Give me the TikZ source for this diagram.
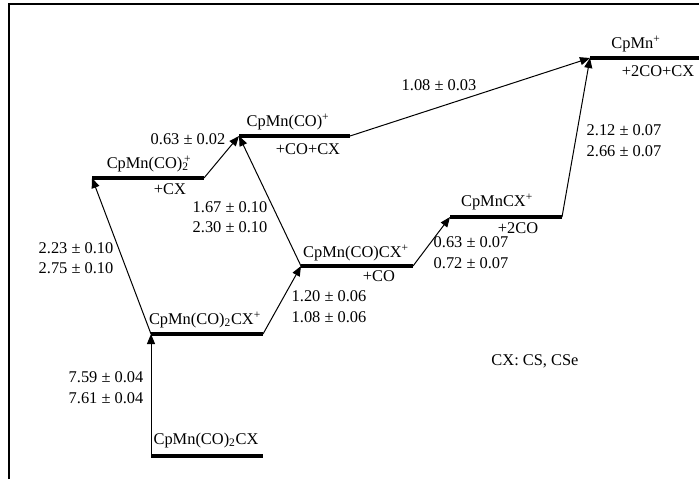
\documentclass[tikz,border=0pt]{standalone}
\usepackage{fontspec}
\setmainfont{Liberation Serif}
\usetikzlibrary{arrows.meta}
\newcommand{\subsup}[2]{\makebox[0pt][l]{\textsubscript{#1}}\textsuperscript{\kern0.15em #2}}
\begin{document}
\begin{tikzpicture}[x=0.75pt,y=-0.75pt,
  levelline/.style={line width=2.3pt},
  step arrow/.style={line width=0.75pt,-{Triangle[length=7.5pt,width=6pt]}},
  joinline/.style={line width=0.75pt},
  lbl/.style={font=\fontsize{12.3}{14}\selectfont,inner sep=0pt,anchor=base}]
\useasboundingbox (0,0) rectangle (699,479);
% frame
\draw[line width=1.1pt] (9,479) -- (9,4) -- (699,4);

% level end points
\coordinate (a1) at (151,456); \coordinate (a2) at (263,456);
\coordinate (b1) at (151,334); \coordinate (b2) at (263,334);
\coordinate (c1) at (92,178);  \coordinate (c2) at (204,178);
\coordinate (d1) at (239,136); \coordinate (d2) at (350,136);
\coordinate (e1) at (301,266); \coordinate (e2) at (413,266);
\coordinate (f1) at (450,217); \coordinate (f2) at (562,217);
\coordinate (g1) at (590,58);  \coordinate (g2) at (699,58);

% levels
\foreach \l in {a,b,c,d,e,f,g} \draw[levelline] (\l1) -- (\l2);

% transitions
\draw[step arrow] (a1) -- (b1);
\draw[step arrow] (b1) -- (c1);
\draw[step arrow] (b2) -- (e1);
\draw[step arrow] (c2) -- (d1);
\draw[step arrow] (e1) -- (d1);
\draw[step arrow] (e2) -- (f1);
\draw[step arrow] (d2) -- (g1);
\draw[step arrow] (f2) -- (g1);

% species
\node[lbl] (ta) at (206,444) {CpMn(CO)\textsubscript{2}CX};
\node[lbl] (tb) at (205,324) {CpMn(CO)\textsubscript{2}CX\textsuperscript{+}};
\node[lbl] (tc) at (149,168) {CpMn(CO)\subsup{2}{+}};
\node[lbl] (td) at (288,126) {CpMn(CO)\textsuperscript{+}};
\node[lbl] (te) at (356,257) {CpMn(CO)CX\textsuperscript{+}};
\node[lbl] (tf) at (497,206) {CpMnCX\textsuperscript{+}};
\node[lbl] (tg) at (636,48) {CpMn\textsuperscript{+}};

% fragments lost
\node[lbl] (lc) at (170,194) {+CX};
\node[lbl] (ld) at (308,154) {+CO+CX};
\node[lbl] (le) at (379,281) {+CO};
\node[lbl] (lf) at (518,233) {+2CO};
\node[lbl] (lg) at (658,76) {+2CO+CX};

% energies
\node[lbl] (eab1) at (106,382) {7.59 ± 0.04};
\node[lbl] (eab2) at (106,403) {7.61 ± 0.04};
\node[lbl] (ebc1) at (76,253) {2.23 ± 0.10};
\node[lbl] (ebc2) at (76,273) {2.75 ± 0.10};
\node[lbl] (ebe1) at (329,301) {1.20 ± 0.06};
\node[lbl] (ebe2) at (329,322) {1.08 ± 0.06};
\node[lbl] (ecd) at (188,144) {0.63 ± 0.02};
\node[lbl] (eed1) at (230,212) {1.67 ± 0.10};
\node[lbl] (eed2) at (230,232) {2.30 ± 0.10};
\node[lbl] (eef1) at (471,247) {0.63 ± 0.07};
\node[lbl] (eef2) at (471,268) {0.72 ± 0.07};
\node[lbl] (edg) at (439,90) {1.08 ± 0.03};
\node[lbl] (efg1) at (624,135) {2.12 ± 0.07};
\node[lbl] (efg2) at (624,156) {2.66 ± 0.07};

% legend
\node[lbl] (key) at (535,365) {CX: CS, CSe};
\end{tikzpicture}
\end{document}
